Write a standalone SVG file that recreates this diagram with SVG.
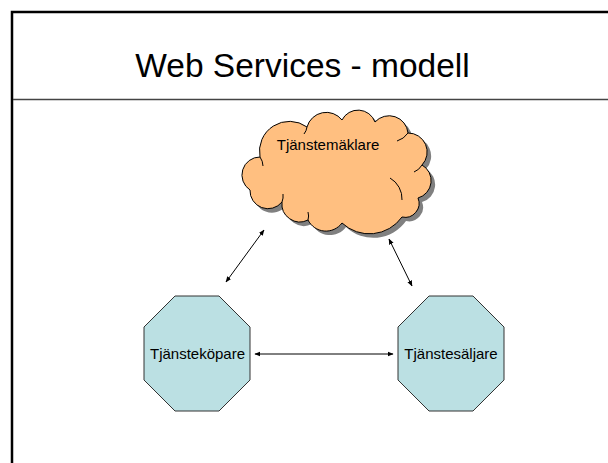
<svg xmlns="http://www.w3.org/2000/svg" width="608" height="463" viewBox="0 0 608 463">
<style>
.lbl{font-family:"Liberation Sans",Arial,sans-serif;font-size:15px;fill:#000;text-anchor:middle}
.oct{fill:#BBE0E3;stroke:#333;stroke-width:1}
.conn{stroke:#000;stroke-width:1;fill:none;marker-start:url(#ah);marker-end:url(#ah)}
</style>
<defs>
<marker id="ah" viewBox="0 0 10 10" refX="9" refY="5" markerWidth="6" markerHeight="6" orient="auto-start-reverse" markerUnits="userSpaceOnUse">
<path d="M0,1 L10,5 L0,9 Z" fill="#000"/>
</marker>
<path id="cloudp" d="M250,190 A18,18 0 0 1 260,157 A30,30 0 0 1 307,127 A20,20 0 0 1 342,120 A18,18 0 0 1 375,122 A19,19 0 0 1 408,133 A19,19 0 0 1 422,165 A18,18 0 0 1 418,198 A14,14 0 0 1 402,217 A40,40 0 0 1 342,223 A20,20 0 0 1 308,220 A18,18 0 0 1 282,202 A18,18 0 0 1 250,190 Z"/>
</defs>
<rect width="608" height="463" fill="#fff"/>
<g id="frame">
<path d="M12,463 V12 H608" fill="none" stroke="#000" stroke-width="2.5"/>
<line x1="13" y1="99.5" x2="608" y2="99.5" stroke="#444" stroke-width="1.5"/>
</g>
<g id="title">
<text x="302.5" y="77" font-family="'Liberation Sans',Arial,sans-serif" font-size="33.5" text-anchor="middle" fill="#000">Web Services - modell</text>
</g>
<g id="connectors">
<line class="conn" x1="264" y1="230" x2="226" y2="282"/>
<line class="conn" x1="389" y1="239" x2="412" y2="286"/>
<line class="conn" x1="255" y1="354" x2="393" y2="354"/>
</g>
<g id="broker">
<use href="#cloudp" transform="translate(4,4)" fill="#808080"/>
<use href="#cloudp" fill="#FFBF80" stroke="#000" stroke-width="1"/>
<path d="M260,157 A16,16 0 0 1 263,166 M307,127 A14,14 0 0 1 304,134 M408,133 A20,20 0 0 1 397,141 M422,165 A16,16 0 0 1 414,172 M390,178 A24,24 0 0 1 402,200 M308,220 A14,14 0 0 0 308,212 M282,202 A16,16 0 0 0 283,194" fill="none" stroke="#000" stroke-width="1"/>
<text class="lbl" x="328" y="150">Tjänstemäklare</text>
</g>
<g id="buyer">
<polygon class="oct" points="175,296 219,296 250,327 250,380 219,411 175,411 144,380 144,327"/>
<text class="lbl" x="197.5" y="359">Tjänsteköpare</text>
</g>
<g id="seller">
<polygon class="oct" points="429,296 473,296 504,327 504,380 473,411 429,411 398,380 398,327"/>
<text class="lbl" x="451" y="359">Tjänstesäljare</text>
</g>
</svg>
